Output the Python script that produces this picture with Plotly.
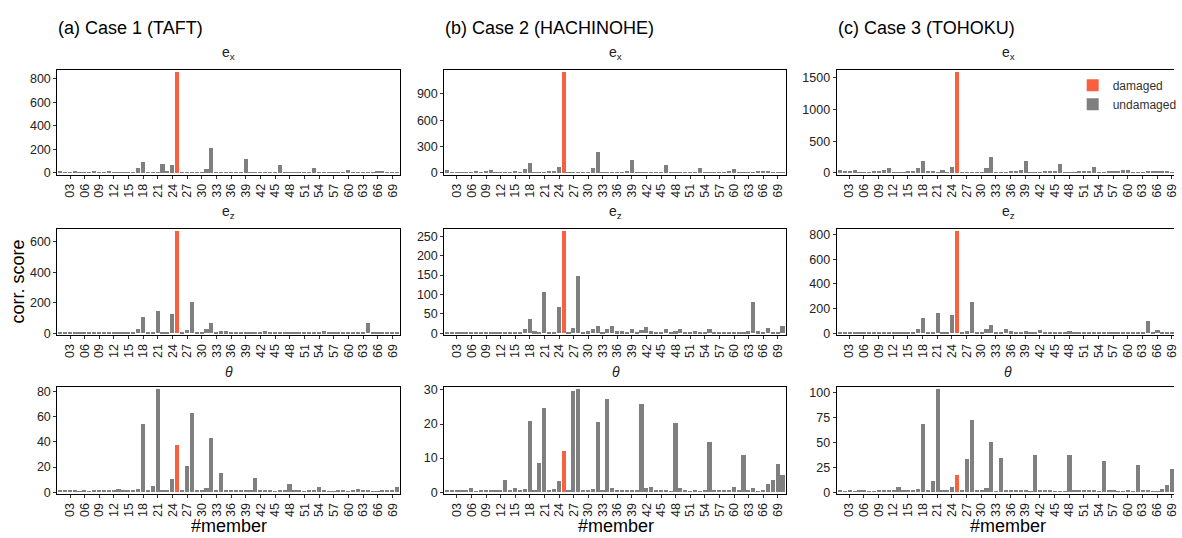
import plotly.graph_objects as go

# ---------------------------------------------------------------------------
# data: correlation score per structural member (1..70); member 25 is damaged
# ---------------------------------------------------------------------------
members = list(range(1, 71))
damaged_member = 25
tick_members = list(range(3, 70, 3))
tick_labels = [f"{m:02d}" for m in tick_members]

case_titles = ["(a) Case 1 (TAFT)", "(b) Case 2 (HACHINOHE)", "(c) Case 3 (TOHOKU)"]
component_titles = ["e<sub>x</sub>", "e<sub>z</sub>", "<i>θ</i>"]

taft_ex = [17, 3, 6, 15, 2, 2, 2, 9, 3, 6, 8, 2, 2, 2, 4, 6, 42, 92, 3, 4,
           6, 75, 8, 66, 858, 2, 5, 6, 6, 2, 33, 208, 2, 2, 2, 3, 3, 3, 117, 2,
           2, 2, 2, 3, 3, 69, 2, 2, 2, 2, 2, 3, 42, 2, 2, 2, 2, 3, 3, 25,
           2, 2, 2, 2, 3, 7, 7, 3, 3, 3]
taft_ez = [4, 3, 3, 3, 3, 3, 6, 6, 3, 3, 3, 6, 6, 6, 6, 6, 26, 103, 6, 6,
           148, 6, 6, 123, 671, 3, 19, 206, 6, 6, 26, 65, 4, 13, 13, 6, 6, 6, 6, 6,
           4, 8, 13, 4, 4, 6, 6, 6, 6, 4, 4, 6, 4, 4, 13, 4, 4, 4, 4, 4,
           4, 6, 4, 66, 6, 4, 6, 6, 6, 8]
taft_theta = [1, 1.5, 1, 1, 0.3, 1, 0.3, 1, 1.5, 1, 1, 1, 2.3, 1, 1.5, 1.5, 2.3, 54, 1, 4.7,
              82, 1.5, 1.5, 10.2, 37, 1, 20.5, 63, 1, 1, 3.2, 42.5, 1, 15, 1.6, 1, 1, 1, 1.5, 1,
              11, 1.5, 1, 1, 0.3, 1, 1, 6.3, 1, 1, 0.3, 1, 1, 4, 1, 0.3, 0.3, 1, 1, 0.3,
              1, 2.3, 1, 1, 0.3, 0.3, 1.5, 1, 1.6, 4]

hachinohe_ex = [26, 7, 7, 7, 2, 2, 10, 2, 13, 33, 3, 3, 3, 3, 12, 7, 44, 110, 4, 4,
                4, 25, 12, 70, 1150, 3, 5, 5, 5, 5, 48, 235, 3, 3, 3, 3, 5, 12, 150, 3,
                3, 3, 3, 3, 5, 92, 3, 3, 3, 4, 3, 5, 59, 3, 3, 3, 3, 3, 12, 40,
                3, 3, 3, 3, 10, 10, 10, 4, 3, 3]
hachinohe_ez = [2, 2, 2, 3, 2, 2, 3.5, 2, 3.5, 1, 3, 3, 3, 3, 3, 3, 10, 36, 5, 3,
                106, 3, 3, 68, 264, 3, 13, 147, 3, 5, 11, 18, 2, 10, 19, 5, 5, 3, 10, 2,
                7.5, 16, 5, 2, 1, 10, 3, 5, 10, 2, 3, 5, 3, 3, 11.5, 3, 3, 1, 2, 1,
                2, 3, 4.5, 81, 5, 3, 13, 3, 3, 19]
hachinohe_theta = [0.3, 0.3, 0.3, 0.3, 0.3, 1.2, 0.05, 0.3, 0.3, 0.3, 0.3, 0.6, 3.5, 0.3, 1.2, 0.6, 0.9, 20.9, 0.6, 8.4,
                   24.7, 0.6, 0.9, 3.2, 11.9, 0.3, 29.6, 30.2, 0.6, 0.6, 0.9, 20.6, 0.3, 27.2, 1.2, 0.3, 0.3, 0.3, 0.6, 0.3,
                   25.8, 1.2, 1.5, 0.3, 0.3, 0.3, 0.05, 20.3, 1.2, 0.3, 0.1, 0.3, 0.1, 0.3, 14.5, 0.6, 0.3, 0.3, 0.3, 1.5,
                   0.3, 10.7, 0.3, 1.2, 0.05, 0.3, 2.3, 3.4, 8.1, 4.9]

tohoku_ex = [40, 25, 25, 40, 5, 5, 5, 20, 20, 40, 70, 5, 5, 5, 20, 20, 70, 190, 12, 12,
             10, 40, 10, 85, 1586, 10, 10, 10, 10, 10, 70, 252, 4, 4, 4, 12, 12, 40, 190, 5,
             5, 5, 12, 12, 25, 131, 5, 5, 5, 12, 12, 25, 85, 5, 5, 12, 12, 30, 40, 40,
             5, 5, 5, 12, 20, 20, 20, 12, 5, 5]
tohoku_ez = [5, 5, 5, 8, 5, 5, 5, 5, 5, 5, 6, 6, 6, 6, 6, 6, 30, 125, 6, 6,
             165, 6, 6, 150, 829, 2, 16, 253, 6, 6, 30, 64, 2, 6, 30, 16, 6, 6, 16, 2,
             8, 22, 3, 3, 3, 5, 5, 14, 3, 5, 5, 5, 5, 5, 5, 5, 5, 5, 3, 3,
             5, 5, 8, 96, 5, 24, 3, 5, 5, 5]
tohoku_theta = [1, 0.2, 1, 0.2, 2, 2, 0.2, 0.2, 1, 1, 1, 1, 5, 1, 1, 1, 3, 67.5, 1, 11,
                103, 1, 1, 5, 17, 1, 33, 71.5, 1, 1, 4, 49.7, 0.2, 33.8, 1, 2, 1, 1, 1, 0.2,
                36.8, 1, 2, 1, 0.2, 0.2, 0.2, 36.8, 2, 1, 1, 1, 1, 0.2, 30.8, 1, 1, 0.2, 0.2, 1,
                0.2, 26.8, 1, 2, 0.2, 0.2, 3, 7, 23, 5]

scores = [
    [taft_ex, taft_ez, taft_theta],
    [hachinohe_ex, hachinohe_ez, hachinohe_theta],
    [tohoku_ex, tohoku_ez, tohoku_theta],
]
y_dticks = [[200, 200, 20], [300, 50, 10], [500, 200, 25]]

# ---------------------------------------------------------------------------
# layout geometry (pixels)
# ---------------------------------------------------------------------------
W, H = 1182, 538
FONT = "Liberation Sans, Arial, sans-serif"
TEXT = "#222222"
RED = "#F8603F"
GREY = "#7F7F7F"

col_px = [(57.7, 403.0), (447.3, 791.0), (842.3, 1182.0)]
row_px = [(67.5, 174.0), (229.3, 337.3), (390.7, 499.3)]
panel_w = col_px[0][1] - col_px[0][0]
unit_px = panel_w / 70.2


def px_x(x):
    return x / W


def px_y(y):
    return 1 - y / H


fig = go.Figure()
annotations = []
layout_axes = {}

for c in range(3):
    x0, x1 = col_px[c]
    for r in range(3):
        k = c * 3 + r + 1
        xa = "x" if k == 1 else f"x{k}"
        ya = "y" if k == 1 else f"y{k}"
        vals = scores[c][r]

        und_x = [m for m in members if m != damaged_member]
        und_y = [v for m, v in zip(members, vals) if m != damaged_member]
        dmg_y = [v for m, v in zip(members, vals) if m == damaged_member]

        fig.add_trace(go.Bar(
            x=und_x, y=und_y, xaxis=xa, yaxis=ya, width=0.85,
            marker=dict(color=GREY, line=dict(width=0)),
            name="undamaged", legendgroup="undamaged", legendrank=2,
            showlegend=(k == 1),
        ))
        fig.add_trace(go.Bar(
            x=[damaged_member], y=dmg_y, xaxis=xa, yaxis=ya, width=0.85,
            marker=dict(color=RED, line=dict(width=0)),
            name="damaged", legendgroup="damaged", legendrank=1,
            showlegend=(k == 1),
        ))

        vmax = max(vals)
        pad = 0.018 * vmax
        x_hi = 70.6 if c < 2 else 0.4 + (x1 - x0) / unit_px
        y0, y1 = row_px[r]

        layout_axes[("xaxis" if k == 1 else f"xaxis{k}")] = dict(
            domain=[px_x(x0), px_x(x1)], anchor=ya, range=[0.4, x_hi],
            tickmode="array", tickvals=tick_members, ticktext=tick_labels,
            tickangle=-90, ticks="outside", ticklen=3, tickcolor="#333333",
            ticklabeloverflow="allow",
            tickfont=dict(family=FONT, size=12.5, color=TEXT),
            showline=True, linecolor="black", linewidth=1, mirror=True,
            showgrid=False, zeroline=False, fixedrange=True,
        )
        layout_axes[("yaxis" if k == 1 else f"yaxis{k}")] = dict(
            domain=[px_y(y1), px_y(y0)], anchor=xa, range=[-pad, vmax + pad],
            tick0=0, dtick=y_dticks[c][r], ticks="outside", ticklen=3,
            tickcolor="#333333", tickfont=dict(family=FONT, size=12.5, color=TEXT),
            showline=True, linecolor="black", linewidth=1, mirror=(c < 2),
            showgrid=False, zeroline=False, fixedrange=True,
        )

        # strip title above each panel
        annotations.append(dict(
            text=component_titles[r], x=px_x(x0 + panel_w / 2),
            y=px_y(y0 - 6), xref="paper", yref="paper", xanchor="center", yanchor="bottom",
            showarrow=False, font=dict(family=FONT, size=14, color=TEXT),
        ))

    # case title and x-axis title per column
    annotations.append(dict(
        text=case_titles[c], x=px_x(x0 - 1), y=px_y(24), xref="paper", yref="paper",
        xanchor="left", yanchor="middle", showarrow=False,
        font=dict(family=FONT, size=18, color="black"),
    ))
    annotations.append(dict(
        text="#member", x=px_x(x0 + panel_w / 2), y=px_y(532),
        xref="paper", yref="paper", xanchor="center", yanchor="middle", showarrow=False,
        font=dict(family=FONT, size=18, color="black"),
    ))

annotations.append(dict(
    text="corr. score", x=px_x(18), y=px_y(283), xref="paper", yref="paper",
    xanchor="center", yanchor="middle", textangle=-90, showarrow=False,
    font=dict(family=FONT, size=18, color="black"),
))

fig.update_layout(
    width=W, height=H, autosize=False,
    margin=dict(l=0, r=0, t=0, b=0, pad=0),
    paper_bgcolor="white", plot_bgcolor="white",
    barmode="overlay", bargap=0,
    showlegend=True,
    legend=dict(
        x=px_x(1080), y=px_y(68), xanchor="left", yanchor="top",
        bgcolor="rgba(0,0,0,0)", borderwidth=0, tracegroupgap=0,
        font=dict(family=FONT, size=12, color="#333333"),
        itemclick=False, itemdoubleclick=False,
    ),
    annotations=annotations,
    **layout_axes,
)

fig.write_html("out.html")
